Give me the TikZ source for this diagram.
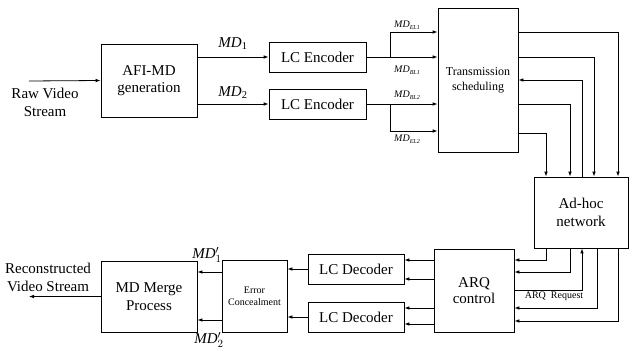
\documentclass[tikz,border=0pt]{standalone}
\usepackage{fontspec}
\setmainfont{Liberation Serif}
\usetikzlibrary{arrows.meta}
\newcommand{\mdsub}[1]{\textit{MD}\textsubscript{#1}}
\newcommand{\mdsmall}[1]{\textit{MD}\raisebox{-2.2pt}{\fontsize{6}{7}\selectfont\textit{#1}}}
\newcommand{\mdprime}[1]{\textit{MD}$'_{#1}$}
\begin{document}
\begin{tikzpicture}[x=1pt,y=-1pt,
  box/.style={draw,line width=0.8pt,inner sep=0pt,align=center,
    font=\fontsize{15}{17.5}\selectfont},
  flow/.style={line width=0.8pt,-{Latex[length=5pt,width=3.6pt]}},
  lbl/.style={font=\fontsize{15}{18}\selectfont,align=center,inner sep=0pt},
  sm/.style={font=\fontsize{10}{12}\selectfont,inner sep=0pt}]
\useasboundingbox (0,0) rectangle (629,350);

% ---- sender side ----
\node[box,minimum width=96pt,minimum height=73pt] (afi) at (149,80.5) {AFI-MD\\generation};
\node[box,minimum width=97pt,minimum height=30pt] (enc1) at (317.5,57) {LC Encoder};
\node[box,minimum width=97pt,minimum height=30pt] (enc2) at (317.5,104) {LC Encoder};
\node[box,minimum width=80pt,minimum height=144pt,font=\fontsize{12}{15}\selectfont] (ts) at (478,80) {Transmission\\scheduling};

% ---- network ----
\node[box,minimum width=94pt,minimum height=71pt] (adhoc) at (581,212.5) {Ad-hoc\\network};

% ---- receiver side ----
\node[box,minimum width=80pt,minimum height=83pt,font=\fontsize{15}{16.5}\selectfont] (arq) at (474,290.5) {ARQ\\control};
\node[box,minimum width=96pt,minimum height=30pt] (dec1) at (356,269) {LC Decoder};
\node[box,minimum width=96pt,minimum height=30pt] (dec2) at (356,317) {LC Decoder};
\node[box,minimum width=65pt,minimum height=72pt,font=\fontsize{10}{12}\selectfont] (ec) at (254.5,296) {Error\\Concealment};
\node[box,minimum width=96pt,minimum height=71pt] (merge) at (149,296.5) {MD Merge\\Process};

% ---- outer texts ----
\node[lbl] (rawtxt) at (45,102) {Raw Video\\Stream};
\node[lbl] (rectxt) at (48,277) {Reconstructed\\Video Stream};
\coordinate (rawin) at (29,81);
\coordinate (recout) at (29,296.5);

% ---- input and encoders ----
\draw[flow] (rawin) -- (afi.west);
\draw[flow] (afi.east |- enc1.west) -- (enc1.west);
\draw[flow] (afi.east |- enc2.west) -- (enc2.west);
\node[lbl] (mdone) at (233,44) {\mdsub{1}};
\node[lbl] (mdtwo) at (233,93) {\mdsub{2}};

% ---- encoder outputs into the scheduler ----
\coordinate (br1) at (390,57);
\coordinate (br2) at (390,104);
\coordinate (el1in) at (ts.west |- 0,32);
\coordinate (el2in) at (ts.west |- 0,131);
\draw[flow] (enc1.east) -- (ts.west |- enc1.east);
\draw[flow] (br1) |- (el1in);
\draw[flow] (enc2.east) -- (ts.west |- enc2.east);
\draw[flow] (br2) |- (el2in);
\node[sm] (lel1) at (407,25) {\mdsmall{EL1}};
\node[sm] (lbl1) at (407,70) {\mdsmall{BL1}};
\node[sm] (lbl2) at (407,95) {\mdsmall{BL2}};
\node[sm] (lel2) at (407,139) {\mdsmall{EL2}};

% ---- scheduler <-> ad-hoc network ----
\draw[flow] (ts.east |- 0,32)  -| (adhoc.north -| 618,0);
\draw[flow] (ts.east |- 0,57)  -| (adhoc.north -| 594,0);
\draw[flow] (adhoc.north -| 582,0) |- (ts.east |- 0,80);
\draw[flow] (ts.east |- 0,104) -| (adhoc.north -| 570,0);
\draw[flow] (ts.east |- 0,133) -| (adhoc.north -| 546,0);

% ---- ad-hoc network <-> ARQ control ----
\draw[flow] (adhoc.south -| 546,0) |- (arq.east |- 0,260);
\draw[flow] (adhoc.south -| 570,0) |- (arq.east |- 0,272);
\draw[flow] (arq.east |- 0,290) -| (adhoc.south -| 582,0);
\draw[flow] (adhoc.south -| 597,0) |- (arq.east |- 0,308);
\draw[flow] (adhoc.south -| 618,0) |- (arq.east |- 0,321);
\node[sm] (arqreq) at (554,296.5) {ARQ\ \ Request};

% ---- ARQ control to decoders ----
\draw[flow] (arq.west |- 0,260) -- (dec1.east |- 0,260);
\draw[flow] (arq.west |- 0,279) -- (dec1.east |- 0,279);
\draw[flow] (arq.west |- 0,308) -- (dec2.east |- 0,308);
\draw[flow] (arq.west |- 0,324) -- (dec2.east |- 0,324);

% ---- decoders, concealment, merge ----
\draw[flow] (dec1.west) -- (ec.east |- dec1.west);
\draw[flow] (dec2.west) -- (ec.east |- dec2.west);
\draw[flow] (ec.west |- 0,272) -- (merge.east |- 0,272);
\draw[flow] (ec.west |- 0,320) -- (merge.east |- 0,320);
\node[lbl] (mdp1) at (207,255) {\mdprime{1}};
\node[lbl] (mdp2) at (209,340) {\mdprime{2}};
\draw[flow] (merge.west) -- (recout);
\end{tikzpicture}
\end{document}
